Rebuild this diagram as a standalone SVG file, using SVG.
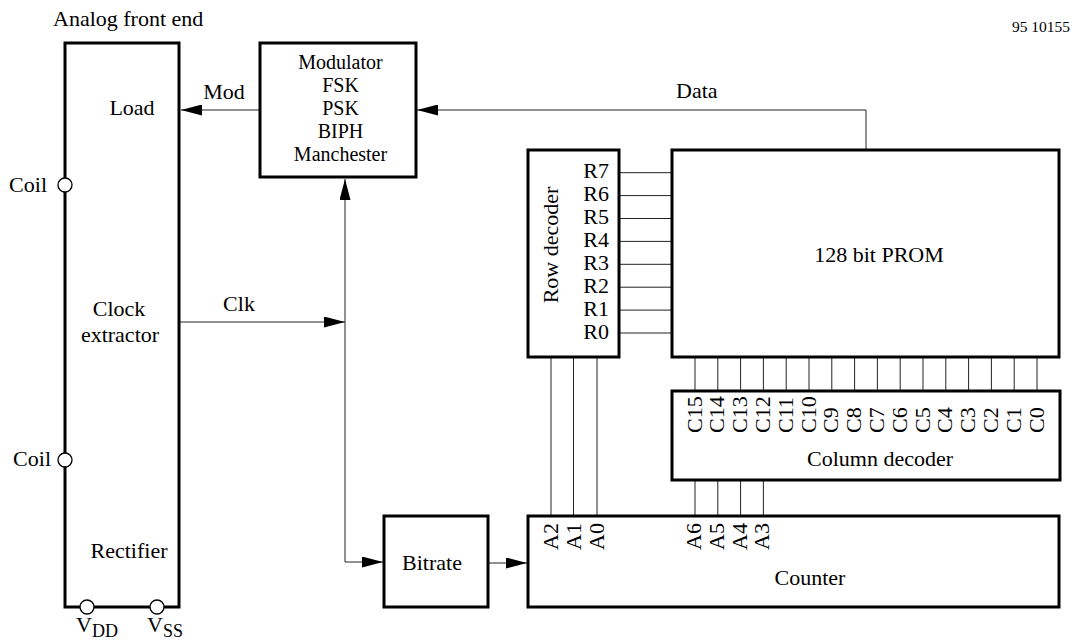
<svg xmlns="http://www.w3.org/2000/svg" width="1074" height="641" viewBox="0 0 1074 641">
<style>
text{font-family:"Liberation Serif","Times New Roman",serif;font-size:22px;fill:#000}
.box{fill:#fff;stroke:#000;stroke-width:3}
.w{fill:none;stroke:#222;stroke-width:1}
.pin{fill:#fff;stroke:#000;stroke-width:1.3}
.m{text-anchor:middle}
.e{text-anchor:end}
.sub{font-size:18px}
.mod{font-size:20px;text-anchor:middle}
</style>
<defs>
<marker id="ah" viewBox="0 0 21 11" refX="21" refY="5.5" markerWidth="21" markerHeight="11" orient="auto" markerUnits="userSpaceOnUse"><path d="M0,0 L21,5.5 L0,11 Z" fill="#000"/></marker>
</defs>
<rect width="1074" height="641" fill="#fff"/>
<text x="1070" y="32" class="e" style="font-size:15.5px">95 10155</text>

<g id="connectors">
<path class="w" d="M260,110 H181" marker-end="url(#ah)"/>
<path class="w" d="M866,150 V110 H417" marker-end="url(#ah)"/>
<path class="w" d="M179,322 H345" marker-end="url(#ah)"/>
<path class="w" d="M345,562 V179" marker-end="url(#ah)"/>
<path class="w" d="M345,562 H383" marker-end="url(#ah)"/>
<path class="w" d="M488,563 H527" marker-end="url(#ah)"/>
<g id="row-lines">
<path class="w" d="M619,172.7H672M619,195.6H672M619,218.5H672M619,241.4H672M619,264.3H672M619,287.2H672M619,310.1H672M619,333H672"/>
</g>
<g id="col-lines">
<path class="w" d="M695,357V391M717.8,357V391M740.6,357V391M763.4,357V391M786.2,357V391M809,357V391M831.8,357V391M854.6,357V391M877.4,357V391M900.2,357V391M923,357V391M945.8,357V391M968.6,357V391M991.4,357V391M1014.2,357V391M1037,357V391"/>
</g>
<g id="addr-lines">
<path class="w" d="M551,357V516M573.5,357V516M597,357V516"/>
<path class="w" d="M695,480V516M717.8,480V516M740.6,480V516M763.4,480V516"/>
</g>
<text x="239" y="311" class="m">Clk</text>
<text x="224" y="99" class="m">Mod</text>
<text x="676" y="98">Data</text>
</g>

<g id="afe">
<text x="53" y="26">Analog front end</text>
<rect class="box" x="65" y="43" width="114" height="564"/>
<text x="132" y="115" class="m">Load</text>
<text x="119" y="316" class="m">Clock</text>
<text x="120" y="342" class="m">extractor</text>
<text x="129" y="558" class="m">Rectifier</text>
<circle class="pin" cx="65" cy="185" r="7"/>
<circle class="pin" cx="65" cy="460" r="7"/>
<circle class="pin" cx="87" cy="607" r="7"/>
<circle class="pin" cx="157" cy="607" r="7"/>
<text x="47" y="192" class="e">Coil</text>
<text x="51" y="466" class="e">Coil</text>
<text x="76" y="632">V<tspan class="sub" dy="5">DD</tspan></text>
<text x="147" y="632">V<tspan class="sub" dy="5">SS</tspan></text>
</g>

<g id="modulator">
<rect class="box" x="260" y="43" width="156" height="134"/>
<text x="340.5" y="69" class="mod">Modulator</text>
<text x="340.5" y="92" class="mod">FSK</text>
<text x="340.5" y="115" class="mod">PSK</text>
<text x="340.5" y="138" class="mod">BIPH</text>
<text x="340.5" y="161" class="mod">Manchester</text>
</g>

<g id="row-decoder">
<rect class="box" x="528" y="150" width="91" height="207"/>
<text transform="translate(558,245) rotate(-90)" class="m">Row decoder</text>
<text x="609" y="178.4" class="e">R7</text>
<text x="609" y="201.3" class="e">R6</text>
<text x="609" y="224.2" class="e">R5</text>
<text x="609" y="247.1" class="e">R4</text>
<text x="609" y="270" class="e">R3</text>
<text x="609" y="292.9" class="e">R2</text>
<text x="609" y="315.8" class="e">R1</text>
<text x="609" y="338.7" class="e">R0</text>
</g>

<g id="prom">
<rect class="box" x="672" y="150" width="387" height="207"/>
<text x="879" y="262" class="m">128 bit PROM</text>
</g>

<g id="column-decoder">
<rect class="box" x="672" y="391" width="388" height="89"/>
<text transform="translate(701.5,433) rotate(-90)">C15</text>
<text transform="translate(724.3,433) rotate(-90)">C14</text>
<text transform="translate(747.1,433) rotate(-90)">C13</text>
<text transform="translate(769.9,433) rotate(-90)">C12</text>
<text transform="translate(792.7,433) rotate(-90)">C11</text>
<text transform="translate(815.5,433) rotate(-90)">C10</text>
<text transform="translate(838.3,433) rotate(-90)">C9</text>
<text transform="translate(861.1,433) rotate(-90)">C8</text>
<text transform="translate(883.9,433) rotate(-90)">C7</text>
<text transform="translate(906.7,433) rotate(-90)">C6</text>
<text transform="translate(929.5,433) rotate(-90)">C5</text>
<text transform="translate(952.3,433) rotate(-90)">C4</text>
<text transform="translate(975.1,433) rotate(-90)">C3</text>
<text transform="translate(997.9,433) rotate(-90)">C2</text>
<text transform="translate(1020.7,433) rotate(-90)">C1</text>
<text transform="translate(1043.5,433) rotate(-90)">C0</text>
<text x="880" y="466" class="m">Column decoder</text>
</g>

<g id="bitrate">
<rect class="box" x="384" y="516" width="104" height="91"/>
<text x="432" y="570" class="m">Bitrate</text>
</g>

<g id="counter">
<rect class="box" x="528" y="516" width="531" height="91"/>
<text transform="translate(558,550) rotate(-90)">A2</text>
<text transform="translate(580.5,550) rotate(-90)">A1</text>
<text transform="translate(604,550) rotate(-90)">A0</text>
<text transform="translate(701,550) rotate(-90)">A6</text>
<text transform="translate(723.8,550) rotate(-90)">A5</text>
<text transform="translate(746.6,550) rotate(-90)">A4</text>
<text transform="translate(769.4,550) rotate(-90)">A3</text>
<text x="810" y="585" class="m">Counter</text>
</g>
</svg>
